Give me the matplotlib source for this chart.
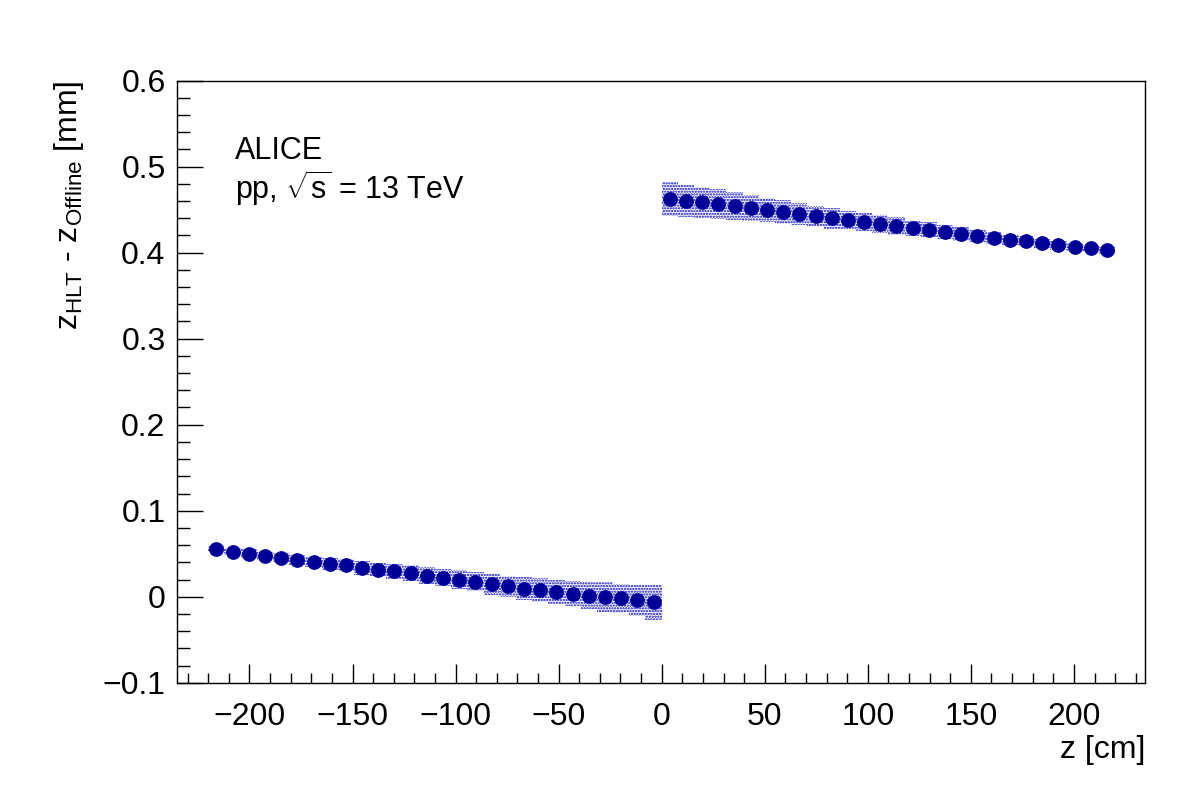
import numpy as np
import matplotlib
matplotlib.use("Agg")
import matplotlib.pyplot as plt
from matplotlib.ticker import MultipleLocator

plt.rcParams['font.family'] = ['Liberation Sans', 'DejaVu Sans']
plt.rcParams['mathtext.fontset'] = 'custom'
plt.rcParams['mathtext.rm'] = 'Liberation Sans'
plt.rcParams['mathtext.it'] = 'Liberation Sans'
plt.rcParams['hatch.linewidth'] = 1.1

# histogram binning (56 bins from -220 to 220 cm)
z_low, z_high, n_bins = -220.0, 220.0, 56

# left half (z < 0): mean z_HLT - z_Offline [mm]
dz_neg = [0.0555, 0.0525, 0.0500, 0.0477, 0.0453, 0.0425, 0.0405, 0.0384,
          0.0364, 0.0336, 0.0316, 0.0296, 0.0276, 0.0246, 0.0219, 0.0196,
          0.0173, 0.0145, 0.0122, 0.0095, 0.0083, 0.0057, 0.0037, 0.0014,
          -0.0003, -0.0020, -0.0043, -0.0066]
err_neg = [0.004, 0.004, 0.005, 0.005, 0.005, 0.006, 0.006, 0.007,
           0.007, 0.008, 0.008, 0.009, 0.009, 0.010, 0.010, 0.011,
           0.011, 0.012, 0.012, 0.013, 0.014, 0.014, 0.015, 0.016,
           0.017, 0.017, 0.018, 0.020]

# right half (z > 0)
dz_pos = [0.4621, 0.4601, 0.4586, 0.4566, 0.4543, 0.4520, 0.4493, 0.4470,
          0.4447, 0.4427, 0.4400, 0.4380, 0.4357, 0.4334, 0.4310, 0.4283,
          0.4267, 0.4244, 0.4221, 0.4198, 0.4171, 0.4148, 0.4133, 0.4109,
          0.4086, 0.4066, 0.4051, 0.4028]
err_pos = [0.020, 0.019, 0.018, 0.017, 0.016, 0.015, 0.014, 0.014,
           0.013, 0.012, 0.012, 0.011, 0.011, 0.010, 0.010, 0.009,
           0.009, 0.008, 0.008, 0.007, 0.007, 0.006, 0.006, 0.005,
           0.005, 0.005, 0.004, 0.004]

edges = np.linspace(z_low, z_high, n_bins + 1)
centers = 0.5 * (edges[:-1] + edges[1:])
width = edges[1] - edges[0]

z = centers
dz = np.array(dz_neg + dz_pos)
err = np.array(err_neg + err_pos)

marker_col = '#000099'
band_col = '#0000cc'

fig = plt.figure(figsize=(11.82, 8.05), dpi=100)
ax = fig.add_axes([0.1495, 0.1519, 0.8192, 0.7479])

ax.bar(z, 2 * err, bottom=dz - err, width=width, facecolor='none',
       edgecolor=band_col, linewidth=0, hatch='......', zorder=2)
ax.plot(z, dz, 'o', color=marker_col, markersize=9.6, zorder=3)

ax.set_xlim(-235.3, 234.5)
ax.set_ylim(-0.1, 0.6)

ax.xaxis.set_major_locator(MultipleLocator(50))
ax.xaxis.set_minor_locator(MultipleLocator(10))
ax.yaxis.set_major_locator(MultipleLocator(0.1))
ax.yaxis.set_minor_locator(MultipleLocator(0.02))

ax.tick_params(axis='both', which='both', direction='in', top=False, right=False,
               labelsize=23, width=1.0, color='black')
ax.tick_params(axis='y', which='major', length=19, pad=8)
ax.tick_params(axis='y', which='minor', length=9.6)
ax.tick_params(axis='x', which='major', length=13.7, pad=14)
ax.tick_params(axis='x', which='minor', length=7.2)

ax.yaxis.set_major_formatter(matplotlib.ticker.FuncFormatter(
    lambda v, p: ('\u2212' if v < -1e-9 else '') + ('%.1f' % abs(v) if abs(v) > 1e-9 else '0')))

for s in ax.spines.values():
    s.set_linewidth(1.0)

ax.set_xlabel('z [cm]', fontsize=23, loc='right', labelpad=2)
ax.set_ylabel(r'z$_{\mathrm{HLT}}$ - z$_{\mathrm{Offline}}$ [mm]', fontsize=23, loc='top')
ax.yaxis.set_label_coords(-0.094, 1.0)

ax.text(0.060, 0.883, 'ALICE', transform=ax.transAxes, fontsize=22,
        ha='left', va='center')
ax.text(0.060, 0.822, r'pp, $\sqrt{\mathrm{s}}$ = 13 TeV', transform=ax.transAxes,
        fontsize=22, ha='left', va='center')

fig.savefig('out.png', dpi=100)
